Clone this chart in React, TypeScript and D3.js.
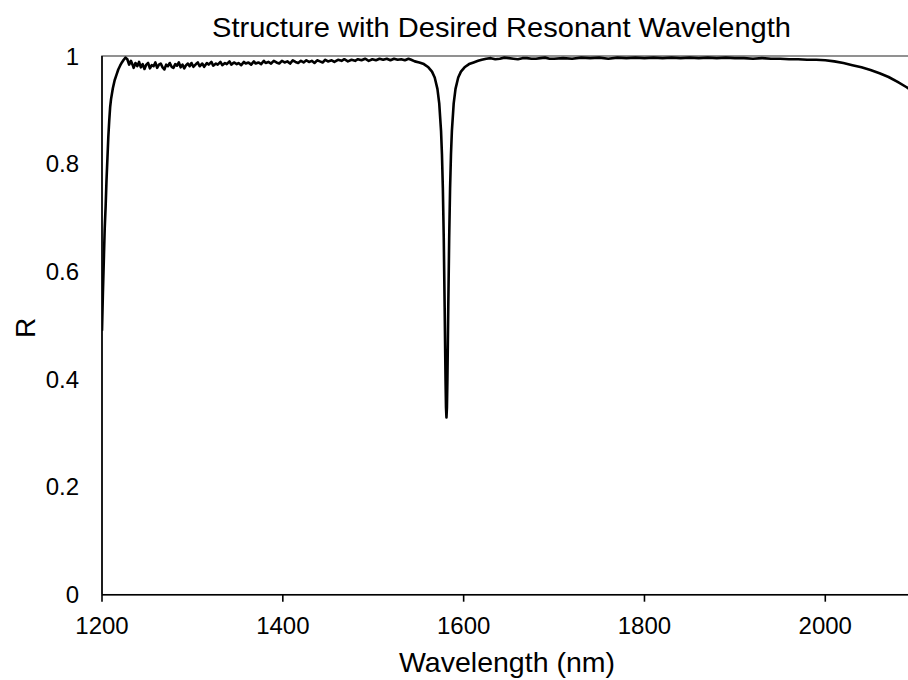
import React from "react";
import * as d3 from "d3";

// ---- data ----
const title = "Structure with Desired Resonant Wavelength";
const xLabel = "Wavelength (nm)";
const yLabel = "R";
const xTicks = [1200, 1400, 1600, 1800, 2000];
const yTicks = [0, 0.2, 0.4, 0.6, 0.8, 1];
const yTickLabels = ["0", "0.2", "0.4", "0.6", "0.8", "1"];

// rising edge
const riseSegment: [number, number][] = [
  [1200, 0.49], [1201, 0.56], [1202, 0.62], [1203, 0.68], [1204, 0.72], [1205, 0.77],
  [1206, 0.81], [1207, 0.85], [1208, 0.88], [1209, 0.905], [1210, 0.92], [1212, 0.94],
  [1214, 0.955], [1216, 0.965], [1218, 0.975], [1220, 0.982], [1222, 0.988], [1224, 0.993],
  [1226, 0.997],
];

// noisy plateau
const plateauSegment: [number, number][] = [
  [1228, 0.994], [1230, 0.984], [1232, 0.991], [1234, 0.983], [1235, 0.978], [1237, 0.987],
  [1239, 0.981], [1241, 0.989], [1243, 0.979], [1245, 0.985], [1247, 0.976], [1249, 0.984],
  [1251, 0.987], [1253, 0.977], [1255, 0.983], [1257, 0.981], [1259, 0.988], [1261, 0.978],
  [1263, 0.984], [1265, 0.986], [1267, 0.979], [1269, 0.975], [1271, 0.984], [1273, 0.981],
  [1275, 0.987], [1277, 0.98], [1279, 0.978], [1281, 0.985], [1283, 0.982], [1285, 0.988],
  [1287, 0.979], [1289, 0.984], [1291, 0.977], [1293, 0.983], [1295, 0.986], [1297, 0.981],
  [1299, 0.987], [1301, 0.98], [1304, 0.985], [1306, 0.988], [1308, 0.981], [1311, 0.986],
  [1313, 0.98], [1316, 0.987], [1318, 0.984], [1321, 0.989], [1323, 0.982], [1326, 0.986],
  [1328, 0.984], [1331, 0.989], [1333, 0.983], [1336, 0.987], [1338, 0.985], [1341, 0.99],
  [1343, 0.984], [1346, 0.988], [1349, 0.985], [1351, 0.987], [1354, 0.983], [1357, 0.989],
  [1359, 0.986], [1362, 0.988], [1365, 0.984], [1368, 0.99], [1370, 0.986], [1373, 0.988],
  [1376, 0.985], [1379, 0.991], [1381, 0.987], [1384, 0.989], [1387, 0.986], [1390, 0.991],
  [1393, 0.988], [1396, 0.986], [1399, 0.991], [1402, 0.988], [1405, 0.99], [1408, 0.986],
  [1411, 0.992], [1414, 0.989], [1417, 0.987], [1420, 0.991], [1423, 0.988], [1426, 0.992],
  [1429, 0.989], [1432, 0.991], [1435, 0.987], [1438, 0.992], [1441, 0.99], [1444, 0.988],
  [1447, 0.993], [1450, 0.99], [1454, 0.992], [1457, 0.989], [1461, 0.993], [1465, 0.991],
  [1468, 0.994], [1472, 0.99], [1476, 0.993], [1480, 0.991], [1483, 0.994], [1487, 0.992],
  [1491, 0.995], [1495, 0.991], [1499, 0.994], [1503, 0.992], [1507, 0.995], [1511, 0.993],
  [1515, 0.995], [1519, 0.992], [1523, 0.995], [1527, 0.993], [1531, 0.994], [1535, 0.992],
  [1539, 0.995], [1542, 0.993],
];

// resonance dip near 1581 nm
const dipSegment: [number, number][] = [
  [1546, 0.99], [1551, 0.988], [1556, 0.985], [1561, 0.979], [1565, 0.971], [1568, 0.96],
  [1571, 0.939], [1573, 0.912], [1575, 0.861], [1576, 0.818], [1577, 0.755], [1578, 0.662],
  [1579, 0.534], [1579.5, 0.462], [1580, 0.396], [1580.5, 0.347], [1581, 0.329],
  [1581.5, 0.347], [1582, 0.396], [1582.5, 0.462], [1583, 0.534], [1584, 0.662],
  [1585, 0.755], [1586, 0.818], [1587, 0.861], [1589, 0.912], [1591, 0.939], [1594, 0.96],
  [1597, 0.971], [1601, 0.979], [1606, 0.985], [1611, 0.988], [1616, 0.991],
];

// long-wavelength tail
const tailSegment: [number, number][] = [
  [1620, 0.993], [1625, 0.995], [1630, 0.996], [1635, 0.994], [1640, 0.995], [1645, 0.997],
  [1650, 0.996], [1655, 0.995], [1660, 0.994], [1665, 0.996], [1670, 0.996], [1675, 0.995],
  [1680, 0.995], [1685, 0.996], [1690, 0.997], [1695, 0.995], [1700, 0.995], [1710, 0.996],
  [1720, 0.995], [1730, 0.997], [1740, 0.996], [1750, 0.997], [1760, 0.995], [1770, 0.997],
  [1780, 0.996], [1790, 0.997], [1800, 0.996], [1810, 0.997], [1820, 0.996], [1830, 0.997],
  [1840, 0.996], [1850, 0.997], [1860, 0.996], [1870, 0.997], [1880, 0.996], [1890, 0.997],
  [1900, 0.996], [1910, 0.996], [1920, 0.995], [1930, 0.996], [1940, 0.995], [1950, 0.995],
  [1960, 0.994], [1970, 0.994], [1980, 0.993], [1990, 0.993], [2000, 0.992], [2010, 0.99],
  [2020, 0.987], [2030, 0.983], [2040, 0.979], [2050, 0.974], [2060, 0.968], [2070, 0.961],
  [2080, 0.952], [2090, 0.942], [2100, 0.93],
];

const spectrum = [...riseSegment, ...plateauSegment, ...dipSegment, ...tailSegment];

const W = 908;
const H = 680;
const M = { left: 102, right: W - 915.7, top: 56, bottom: H - 594.7 };
const FONT = "'Liberation Sans', Arial, sans-serif";

export default function App() {
  const x = d3.scaleLinear().domain([1200, 2100]).range([M.left, W - M.right]);
  const y = d3.scaleLinear().domain([0, 1]).range([H - M.bottom, M.top]);
  const line = d3
    .line<[number, number]>()
    .x((d) => x(d[0]))
    .y((d) => y(d[1]))
    .curve(d3.curveLinear);

  const x0 = x(1200);
  const x1 = x(2100);
  const yb = y(0);
  const yt = y(1);

  return (
    <svg
      width={W}
      height={H}
      style={{ position: "absolute", left: 0, top: 0, background: "#fff" }}
      fontFamily={FONT}
    >
      <rect x={0} y={0} width={W} height={H} fill="#fff" />
      <defs>
        <clipPath id="plotClip">
          <rect x={x0} y={yt - 10} width={x1 - x0} height={yb - yt + 10} />
        </clipPath>
      </defs>
      {/* plot frame */}
      <rect x={x0} y={yt} width={x1 - x0} height={yb - yt} fill="none" stroke="#6e6e6e" strokeWidth={1.5} />
      {/* axes */}
      <line x1={x0} x2={x0} y1={yt} y2={yb} stroke="#000" strokeWidth={1.6} />
      <line x1={x0} x2={x1} y1={yb} y2={yb} stroke="#000" strokeWidth={1.6} />
      {xTicks.map((t) => (
        <g key={t}>
          <line x1={x(t)} x2={x(t)} y1={yb} y2={yb + 7} stroke="#000" strokeWidth={1.6} />
          <text x={x(t)} y={634} textAnchor="middle" fontSize={24} fill="#000">
            {t}
          </text>
        </g>
      ))}
      {yTicks.map((t, i) => (
        <text key={t} x={79} y={y(t) + 8.5} textAnchor="end" fontSize={24} fill="#000">
          {yTickLabels[i]}
        </text>
      ))}
      <path
        d={line(spectrum) || ""}
        fill="none"
        stroke="#000"
        strokeWidth={2.6}
        strokeLinejoin="round"
        clipPath="url(#plotClip)"
      />
      <text
        x={501.5}
        y={37}
        textAnchor="middle"
        fontSize={28}
        fill="#000"
        textLength={579}
        lengthAdjust="spacingAndGlyphs"
      >
        {title}
      </text>
      <text x={507} y={672} textAnchor="middle" fontSize={28.5} fill="#000">
        {xLabel}
      </text>
      <text transform={`translate(35,328) rotate(-90)`} textAnchor="middle" fontSize={28} fill="#000">
        {yLabel}
      </text>
    </svg>
  );
}
